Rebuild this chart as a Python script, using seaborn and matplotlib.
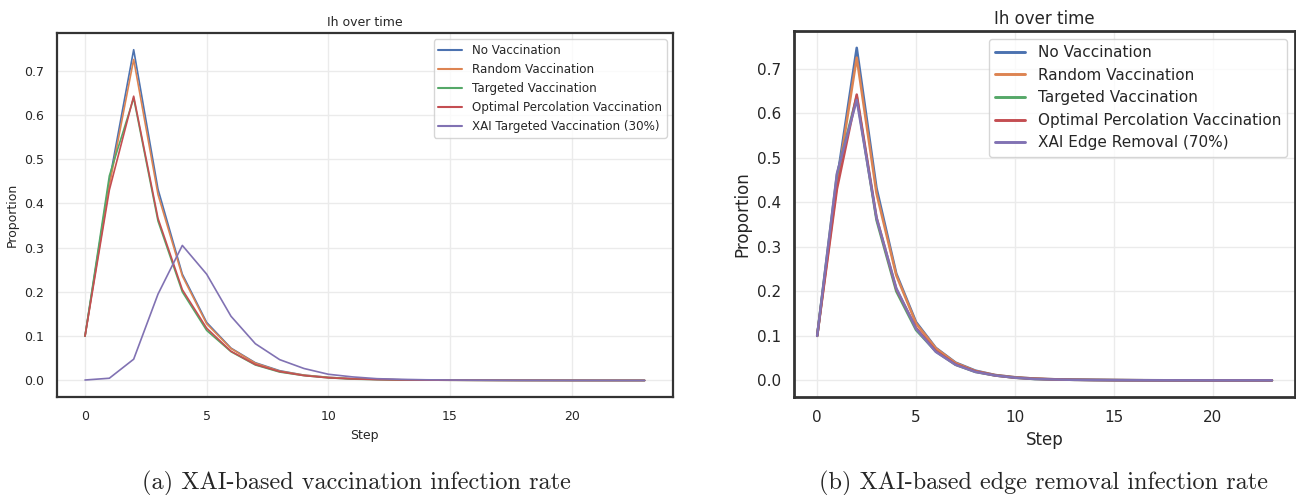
import numpy as np
import pandas as pd
import matplotlib.pyplot as plt
import seaborn as sns

# x axis: simulation steps
steps = list(range(24))

# infected proportion per step
no_vacc = [0.100, 0.450, 0.747, 0.432, 0.240, 0.131, 0.073, 0.040, 0.022, 0.012, 0.007, 0.004,
           0.0025, 0.0015, 0.001, 0.0007, 0.0005, 0.0003, 0.0002, 0.0001, 0.0001, 0.0, 0.0, 0.0]
random_vacc = [0.100, 0.440, 0.725, 0.420, 0.236, 0.128, 0.072, 0.039, 0.021, 0.012, 0.007, 0.004,
               0.0025, 0.0015, 0.001, 0.0007, 0.0005, 0.0003, 0.0002, 0.0001, 0.0001, 0.0, 0.0, 0.0]
targeted_vacc = [0.100, 0.462, 0.638, 0.360, 0.200, 0.113, 0.065, 0.035, 0.019, 0.011, 0.006, 0.003,
                 0.002, 0.0012, 0.0008, 0.0005, 0.0003, 0.0002, 0.0001, 0.0001, 0.0, 0.0, 0.0, 0.0]
optimal_perc = [0.100, 0.430, 0.642, 0.366, 0.205, 0.118, 0.066, 0.036, 0.020, 0.011, 0.006, 0.0035,
                0.002, 0.0012, 0.0008, 0.0005, 0.0003, 0.0002, 0.0001, 0.0001, 0.0, 0.0, 0.0, 0.0]
xai_vacc = [0.001, 0.005, 0.048, 0.195, 0.305, 0.240, 0.145, 0.083, 0.047, 0.027, 0.014, 0.008,
            0.004, 0.0025, 0.0015, 0.001, 0.0007, 0.0005, 0.0003, 0.0002, 0.0001, 0.0001, 0.0, 0.0]
xai_edge = [0.100, 0.465, 0.630, 0.365, 0.207, 0.116, 0.064, 0.035, 0.019, 0.011, 0.006, 0.003,
            0.002, 0.0012, 0.0008, 0.0005, 0.0003, 0.0002, 0.0001, 0.0001, 0.0, 0.0, 0.0, 0.0]

base_names = ["No Vaccination", "Random Vaccination", "Targeted Vaccination",
              "Optimal Percolation Vaccination"]
base_series = [no_vacc, random_vacc, targeted_vacc, optimal_perc]
captions = ["(a) XAI-based vaccination infection rate",
            "(b) XAI-based edge removal infection rate"]


def long_df(extra_name, extra_vals):
    rows = []
    for name, vals in zip(base_names + [extra_name], base_series + [extra_vals]):
        for s, v in zip(steps, vals):
            rows.append({"Step": s, "Proportion": v, "Strategy": name})
    return pd.DataFrame(rows)


sns.set_theme(style="whitegrid", palette="deep")
plt.rcParams["font.family"] = ["DejaVu Sans"]
plt.rcParams["grid.color"] = "#ebebeb"
plt.rcParams["axes.edgecolor"] = "#333333"

fig = plt.figure(figsize=(12.96, 4.95), dpi=100)
ax1 = fig.add_axes([0.044, 0.198, 0.475, 0.735])
ax2 = fig.add_axes([0.613, 0.198, 0.386, 0.739])

# (axes, data, tick size, label size, legend size, line width)
panels = [
    (ax1, long_df("XAI Targeted Vaccination (30%)", xai_vacc), 9, 9, 8.6, 1.2),
    (ax2, long_df("XAI Edge Removal (70%)", xai_edge), 11, 12, 11, 1.8),
]
for ax, df, ts, ls, lgs, lw in panels:
    sns.lineplot(data=df, x="Step", y="Proportion", hue="Strategy", ax=ax, linewidth=lw)
    ax.set_title("Ih over time", fontsize=ls, pad=5)
    ax.set_xlabel("Step", fontsize=ls)
    ax.set_ylabel("Proportion", fontsize=ls)
    ax.tick_params(labelsize=ts)
    ax.set_yticks([0, 0.1, 0.2, 0.3, 0.4, 0.5, 0.6, 0.7])
    for sp in ax.spines.values():
        sp.set_linewidth(1.6 if ax is ax1 else 2)
    leg = ax.legend(loc="upper right", fontsize=lgs, title=None)
    for line in leg.get_lines():
        line.set_linewidth(lw + 0.3)

fig.text(0.275, 0.012, captions[0], ha="center", fontsize=17.5, family=["cmr10", "DejaVu Serif"])
fig.text(0.805, 0.012, captions[1], ha="center", fontsize=17.5, family=["cmr10", "DejaVu Serif"])

plt.savefig("out.png", dpi=100)
